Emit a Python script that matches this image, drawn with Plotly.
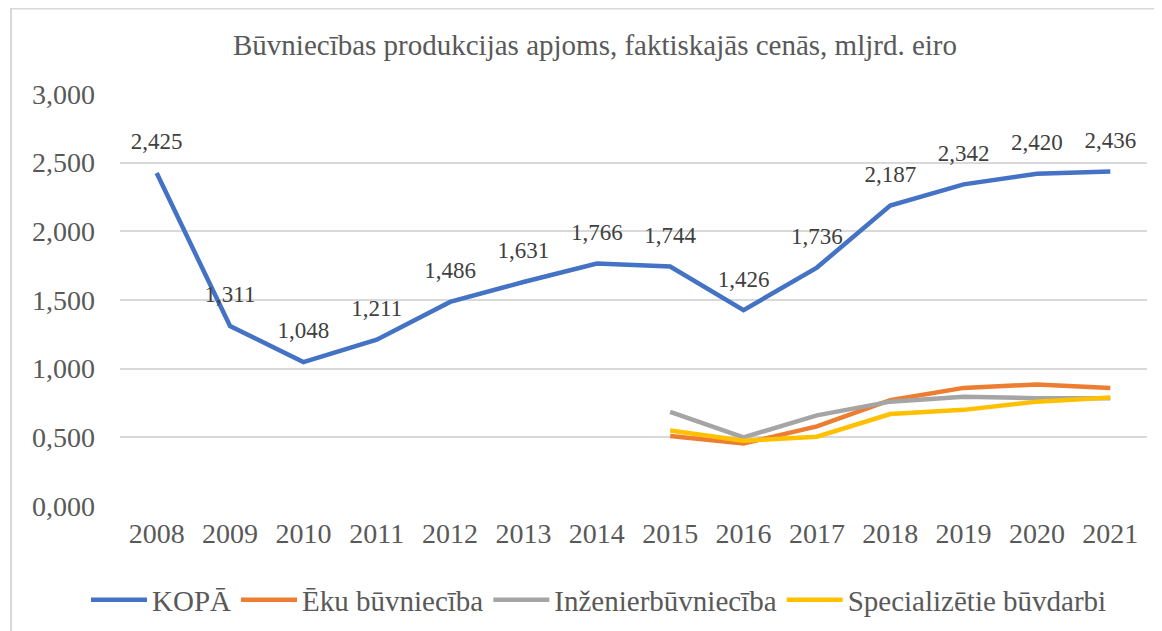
import plotly.graph_objects as go

years = ["2008", "2009", "2010", "2011", "2012", "2013", "2014", "2015", "2016", "2017", "2018", "2019", "2020", "2021"]
kopa = [2.425, 1.311, 1.048, 1.211, 1.486, 1.631, 1.766, 1.744, 1.426, 1.736, 2.187, 2.342, 2.420, 2.436]
eku = [None] * 7 + [0.510, 0.455, 0.580, 0.770, 0.860, 0.885, 0.860]
inz = [None] * 7 + [0.685, 0.500, 0.660, 0.760, 0.795, 0.785, 0.785]
spec = [None] * 7 + [0.550, 0.475, 0.505, 0.670, 0.700, 0.760, 0.790]
y_ticks = [0, 0.5, 1.0, 1.5, 2.0, 2.5, 3.0]

FONT = "Liberation Serif, Times New Roman, serif"
TXT = "#595959"

W, H = 1154, 623          # page adds an 8px body margin
L, R, T, B = 112, 15, 86, 125
PW, PH = W - L - R, H - T - B


def px(x):
    return (x - L) / PW


def py(y):
    return (H - B - y) / PH


fig = go.Figure()
fig.add_trace(go.Scatter(x=years, y=kopa, name="KOPĀ", mode="lines+markers+text",
                         line=dict(color="#4472C4", width=4.5),
                         marker=dict(size=27, color="rgba(0,0,0,0)"),
                         text=[f"{v:.3f}".replace(".", ",") for v in kopa],
                         textposition="top center",
                         textfont=dict(family=FONT, size=23, color="#404040"),
                         cliponaxis=False))
fig.add_trace(go.Scatter(x=years, y=eku, name="Ēku būvniecība", mode="lines",
                         line=dict(color="#ED7D31", width=4.5)))
fig.add_trace(go.Scatter(x=years, y=inz, name="Inženierbūvniecība", mode="lines",
                         line=dict(color="#A5A5A5", width=4.5)))
fig.add_trace(go.Scatter(x=years, y=spec, name="Specializētie būvdarbi", mode="lines",
                         line=dict(color="#FFC000", width=4.5)))

fig.update_layout(
    width=W, height=H,
    margin=dict(l=L, r=R, t=T, b=B, autoexpand=False),
    paper_bgcolor="white", plot_bgcolor="white",
    separators=",.",
    font=dict(family=FONT, color=TXT),
    hovermode=False,
    title=dict(text="Būvniecības produkcijas apjoms, faktiskajās cenās, mljrd. eiro",
               x=587 / W, xref="container", xanchor="center",
               y=1 - 37 / H, yref="container", yanchor="middle",
               font=dict(family=FONT, size=29, color=TXT)),
    showlegend=True,
    legend=dict(orientation="h", xref="container", yref="container",
                x=591 / W, xanchor="center", y=1 - 592 / H, yanchor="middle",
                font=dict(family=FONT, size=29, color=TXT), itemwidth=56,
                tracegroupgap=0),
    xaxis=dict(type="category", range=[-0.5, len(years) - 0.5],
               showgrid=False, zeroline=False, showline=False,
               tickfont=dict(family=FONT, size=28, color=TXT), ticks="",
               ticklabelstandoff=8, automargin=False),
    yaxis=dict(range=[0, 3.0], tickvals=y_ticks, tickformat=".3f",
               showgrid=True, gridcolor="#D9D9D9", gridwidth=1.5,
               zeroline=False, showline=False, ticks="",
               tickfont=dict(family=FONT, size=28, color=TXT),
               ticklabelstandoff=24, automargin=False),
    shapes=[dict(type="rect", xref="paper", yref="paper",
                 x0=px(3), x1=px(W + 20),
                 y0=py(H + 20), y1=py(0.5),
                 line=dict(color="#D9D9D9", width=2), fillcolor="rgba(0,0,0,0)",
                 layer="below")],
)

fig.write_html("out.html")
